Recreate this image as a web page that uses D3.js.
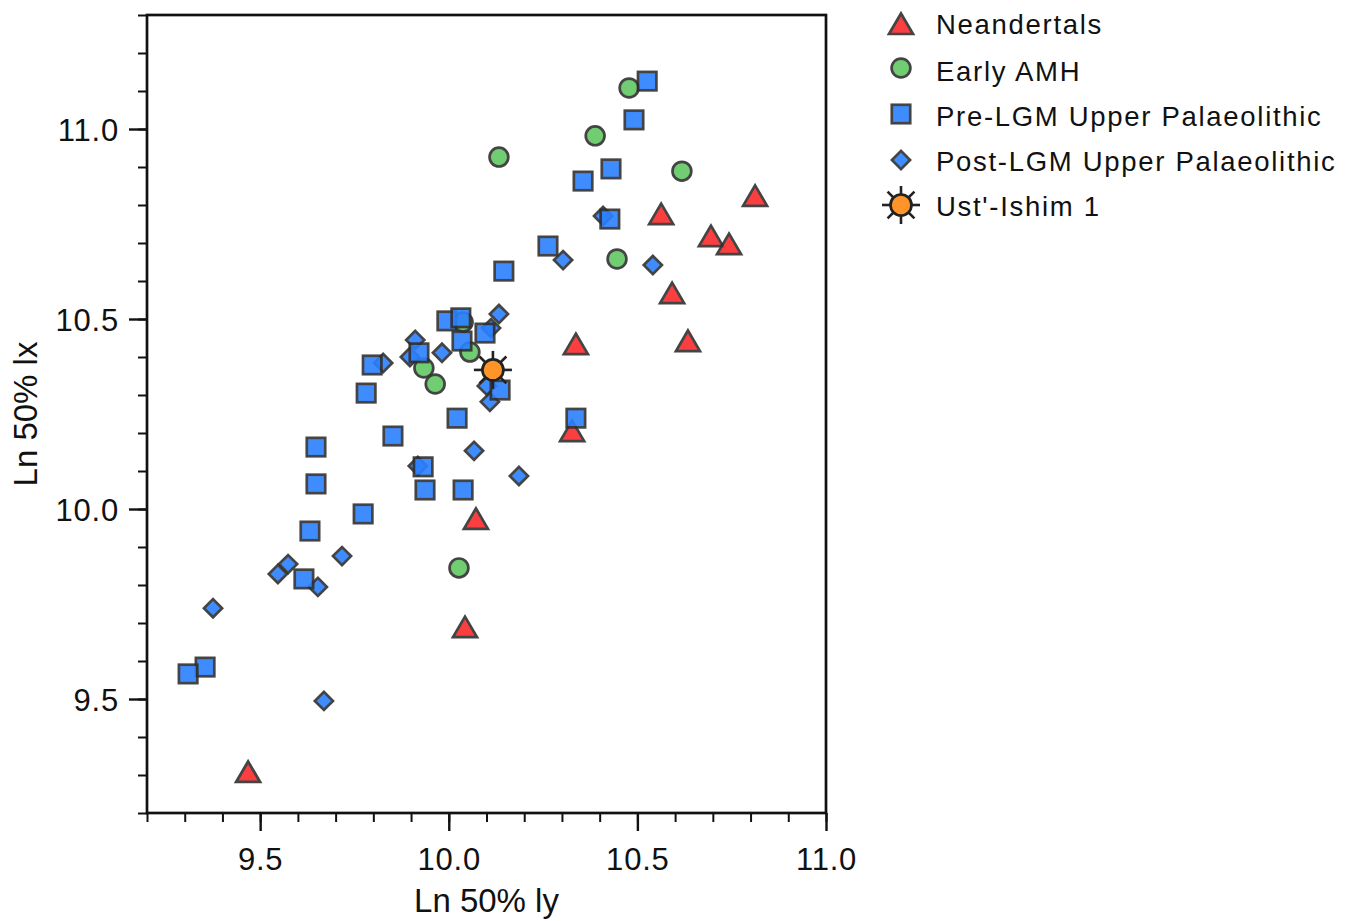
<!DOCTYPE html>
<html><head><meta charset="utf-8">
<script src="https://cdn.jsdelivr.net/npm/d3@7"></script>
<style>
body{margin:0;background:#fff}
svg{display:block}
text{font-family:"Liberation Sans",Arial,Helvetica,sans-serif;fill:#111}
</style></head>
<body><svg id="chart" width="1357" height="921"></svg>
<script>
// ---- data ----
const neandertalsX = [10.812, 10.563, 10.695, 10.743, 10.592, 10.634, 10.337, 10.327, 10.072, 10.043, 9.468];
const neandertalsY = [10.824, 10.776, 10.718, 10.697, 10.568, 10.442, 10.434, 10.205, 9.974, 9.689, 9.308];

const earlyAmhX = [10.478, 10.388, 10.133, 10.618, 10.446, 10.038, 10.056, 9.934, 9.964, 10.027];
const earlyAmhY = [11.108, 10.982, 10.926, 10.889, 10.658, 10.492, 10.413, 10.371, 10.329, 9.845];

const preLgmX = [10.526, 10.491, 10.430, 10.356, 10.427, 10.263, 10.146, 9.995, 10.032, 10.035, 10.096, 9.921, 9.797, 9.781,
                 10.136, 10.022, 10.337, 9.852, 9.648, 9.648, 9.932, 9.937, 10.038, 9.773, 9.632, 9.616, 9.354, 9.309];
const preLgmY = [11.126, 11.024, 10.895, 10.863, 10.763, 10.692, 10.626, 10.495, 10.503, 10.442, 10.463, 10.411, 10.379, 10.305,
                 10.313, 10.239, 10.239, 10.192, 10.163, 10.066, 10.111, 10.050, 10.050, 9.987, 9.942, 9.816, 9.584, 9.566];

const postLgmX = [10.409, 10.303, 10.541, 10.133, 10.112, 9.911, 9.982, 9.897, 9.826, 10.101, 10.109, 10.067, 9.918, 10.186,
                  9.717, 9.574, 9.547, 9.653, 9.375, 9.669];
const postLgmY = [10.771, 10.655, 10.642, 10.513, 10.476, 10.445, 10.411, 10.400, 10.384, 10.324, 10.282, 10.153, 10.113, 10.087,
                  9.876, 9.855, 9.829, 9.795, 9.739, 9.495];

const ustIshimX = [10.117];
const ustIshimY = [10.366];

const legendLabels = ["Neandertals", "Early AMH", "Pre-LGM Upper Palaeolithic", "Post-LGM Upper Palaeolithic", "Ust'-Ishim 1"];
const xMajorTicks = [9.5, 10.0, 10.5, 11.0];
const yMajorTicks = [9.5, 10.0, 10.5, 11.0];
const xLabel = "Ln 50% ly";
const yLabel = "Ln 50% lx";

// ---- layout ----
const svg = d3.select("#chart");
const L = 147, R = 826, T = 15, B = 813;
const x = d3.scaleLinear().domain([9.2, 11.0]).range([L, R]);
const y = d3.scaleLinear().domain([9.2, 11.3]).range([B, T]);

const STROKE = "#303030", SW = 2.7, OP = 0.9;
const colors = {tri: "#fb2a2c", circ: "#62c862", sq: "#2b80ff", star: "#ff9429"};

const xMinor = d3.range(92, 111).map(d => d / 10);
const yMinor = d3.range(92, 114).map(d => d / 10);

// minor ticks
svg.append("g").attr("transform", `translate(0,${B})`)
  .call(d3.axisBottom(x).tickValues(xMinor).tickSize(9).tickFormat(""))
  .call(g => g.select(".domain").remove())
  .call(g => g.selectAll("line").attr("stroke", "#111").attr("stroke-width", 2));
svg.append("g").attr("transform", `translate(${L},0)`)
  .call(d3.axisLeft(y).tickValues(yMinor).tickSize(9).tickFormat(""))
  .call(g => g.select(".domain").remove())
  .call(g => g.selectAll("line").attr("stroke", "#111").attr("stroke-width", 2));

// major ticks
svg.append("g").attr("transform", `translate(0,${B})`)
  .call(d3.axisBottom(x).tickValues(xMajorTicks).tickSize(18).tickFormat(d3.format(".1f")))
  .call(g => g.select(".domain").remove())
  .call(g => g.selectAll("line").attr("stroke", "#111").attr("stroke-width", 2.4))
  .call(g => g.selectAll("text").attr("y", 57).attr("dy", 0).attr("font-size", 31)
      .attr("fill", "#111").style("letter-spacing", "0.8px"));
svg.append("g").attr("transform", `translate(${L},0)`)
  .call(d3.axisLeft(y).tickValues(yMajorTicks).tickSize(18).tickFormat(d3.format(".1f")))
  .call(g => g.select(".domain").remove())
  .call(g => g.selectAll("line").attr("stroke", "#111").attr("stroke-width", 2.4))
  .call(g => g.selectAll("text").attr("x", -28).attr("dy", "0.36em").attr("font-size", 31)
      .attr("fill", "#111").style("letter-spacing", "0.8px"));

// frame
svg.append("rect").attr("x", L).attr("y", T).attr("width", R - L).attr("height", B - T)
  .attr("fill", "none").attr("stroke", "#111").attr("stroke-width", 2.7);

// axis titles
svg.append("text").attr("x", (L + R) / 2).attr("y", 912).attr("text-anchor", "middle")
  .attr("font-size", 33).text(xLabel);
svg.append("text").attr("transform", `translate(37,${(T + B) / 2}) rotate(-90)`)
  .attr("text-anchor", "middle").attr("font-size", 33).text(yLabel);

// marker shapes
const triPath = "M0,-10.5L12,10L-12,10Z";
function drawTri(g, cx, cy) {
  g.append("path").attr("d", triPath).attr("transform", `translate(${cx},${cy})`)
    .attr("fill", colors.tri).attr("stroke", STROKE).attr("stroke-width", SW)
    .attr("stroke-linejoin", "miter").attr("opacity", OP);
}
function drawCirc(g, cx, cy) {
  g.append("circle").attr("cx", cx).attr("cy", cy).attr("r", 9.4)
    .attr("fill", colors.circ).attr("stroke", STROKE).attr("stroke-width", SW).attr("opacity", OP);
}
function drawSq(g, cx, cy) {
  g.append("rect").attr("x", cx - 9.2).attr("y", cy - 9.2).attr("width", 18.4).attr("height", 18.4)
    .attr("fill", colors.sq).attr("stroke", STROKE).attr("stroke-width", SW).attr("opacity", OP);
}
function drawDia(g, cx, cy) {
  g.append("rect").attr("x", -6.4).attr("y", -6.4).attr("width", 12.8).attr("height", 12.8)
    .attr("transform", `translate(${cx},${cy}) rotate(45)`)
    .attr("fill", colors.sq).attr("stroke", STROKE).attr("stroke-width", SW).attr("opacity", OP);
}
function drawStar(g, cx, cy) {
  const sg = g.append("g").attr("transform", `translate(${cx},${cy})`);
  d3.range(8).forEach(i => {
    const a = i * Math.PI / 4;
    sg.append("line").attr("x1", 0).attr("y1", 0)
      .attr("x2", 19 * Math.cos(a)).attr("y2", 19 * Math.sin(a))
      .attr("stroke", "#222").attr("stroke-width", 2.6);
  });
  sg.append("circle").attr("r", 10.5).attr("fill", colors.star)
    .attr("stroke", "#222").attr("stroke-width", SW);
}

const plot = svg.append("g");
neandertalsX.forEach((v, i) => drawTri(plot, x(v), y(neandertalsY[i])));
earlyAmhX.forEach((v, i) => drawCirc(plot, x(v), y(earlyAmhY[i])));
postLgmX.forEach((v, i) => drawDia(plot, x(v), y(postLgmY[i])));
preLgmX.forEach((v, i) => drawSq(plot, x(v), y(preLgmY[i])));
ustIshimX.forEach((v, i) => drawStar(plot, x(v), y(ustIshimY[i])));

// legend
const leg = svg.append("g");
const legRows = [24, 71, 116, 161, 206];
const legMarkY = [24, 68, 114, 160, 205];
const legDraw = [drawTri, drawCirc, drawSq, drawDia, drawStar];
legendLabels.forEach((lab, i) => {
  legDraw[i](leg, 901, legMarkY[i]);
  leg.append("text").attr("x", 936).attr("y", legRows[i]).attr("dy", "0.35em")
    .attr("font-size", 27.5).style("letter-spacing", "1.7px").text(lab);
});
</script></body></html>
